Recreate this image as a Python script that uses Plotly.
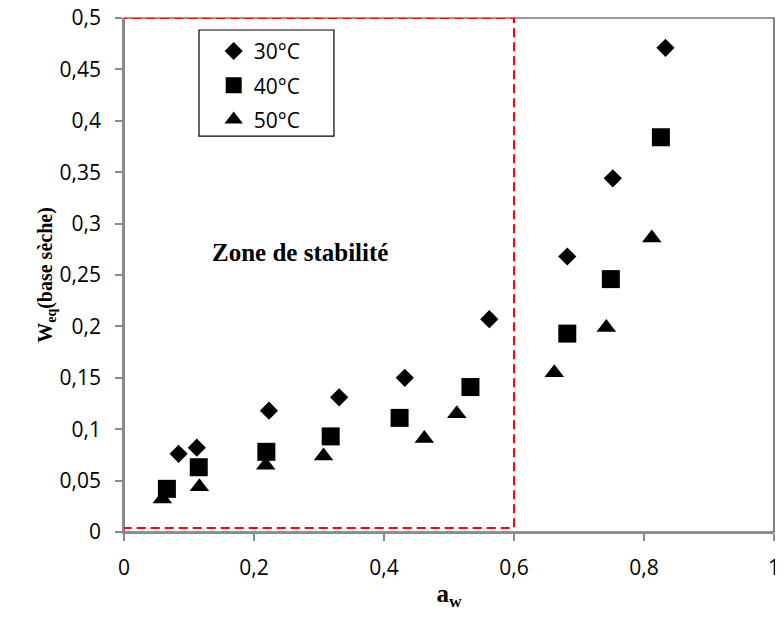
import plotly.graph_objects as go

# data
aw_30 = [0.084, 0.112, 0.223, 0.331, 0.432, 0.562, 0.682, 0.752, 0.833]
w_30 = [0.076, 0.082, 0.118, 0.131, 0.150, 0.207, 0.268, 0.344, 0.471]
aw_40 = [0.066, 0.115, 0.219, 0.318, 0.424, 0.533, 0.682, 0.749, 0.826]
w_40 = [0.042, 0.063, 0.078, 0.093, 0.111, 0.141, 0.193, 0.246, 0.384]
aw_50 = [0.059, 0.116, 0.218, 0.307, 0.462, 0.512, 0.662, 0.742, 0.812]
w_50 = [0.032, 0.044, 0.065, 0.074, 0.091, 0.115, 0.155, 0.199, 0.286]
series_names = ["30°C", "40°C", "50°C"]
x_ticks = [0, 0.2, 0.4, 0.6, 0.8, 1]
y_ticks = [0, 0.05, 0.1, 0.15, 0.2, 0.25, 0.3, 0.35, 0.4, 0.45, 0.5]

fig = go.Figure()
fig.add_trace(go.Scatter(x=aw_30, y=w_30, mode="markers", name=series_names[0],
                         legendgroup="a",
                         marker=dict(symbol="diamond", size=14, color="black"), cliponaxis=False))
fig.add_trace(go.Scatter(x=aw_40, y=w_40, mode="markers", name=series_names[1],
                         legendgroup="b",
                         marker=dict(symbol="square", size=18, color="black"), cliponaxis=False))
fig.add_trace(go.Scatter(x=aw_50, y=w_50, mode="markers", name=series_names[2],
                         legendgroup="c",
                         marker=dict(symbol="triangle-up", size=17, color="black"), cliponaxis=False))
# empty trace so the label axis is rendered
fig.add_trace(go.Scatter(x=[], y=[], yaxis="y2", showlegend=False, hoverinfo="skip"))

tickfont = dict(family="Open Sans, Lato, sans-serif", size=21, color="black")
GRAY = "#8c8c8c"
ML = 93
PW = 767 - ML - 1  # paper width in px
DOM0 = 23 / PW

fig.update_layout(
    xaxis=dict(domain=[DOM0, 1], range=[0, 1], tickvals=x_ticks, showgrid=False, zeroline=False,
               showline=True, linecolor=GRAY, linewidth=1.5, ticks="outside", ticklen=7,
               tickcolor=GRAY, tickwidth=1.5, tickfont=tickfont, automargin=False,
               ticklabeloverflow="allow", ticklabelstandoff=9,
               title=dict(text="<b>a<sub>w</sub></b>",
                          font=dict(family="Liberation Serif, Times New Roman, serif", size=25, color="black"),
                          standoff=8)),
    yaxis=dict(range=[0, 0.5], tickvals=y_ticks, showgrid=False, zeroline=False,
               showline=True, linecolor=GRAY, linewidth=1.5, ticks="outside", ticklen=7,
               tickcolor=GRAY, tickwidth=1.5, showticklabels=False, automargin=False),
    yaxis2=dict(overlaying="y", anchor="free", position=0, side="left", range=[0, 0.5],
                tickvals=y_ticks, showgrid=False, zeroline=False, showline=False, ticks="",
                tickfont=tickfont, automargin=False, ticklabeloverflow="allow",
                title=dict(text="<b>W<sub>eq</sub>(base sèche)</b>",
                           font=dict(family="Liberation Serif, Times New Roman, serif", size=20, color="black"),
                           standoff=0)),
)

# plot-area border
fig.add_shape(type="rect", xref="x domain", yref="paper", x0=0, x1=1, y0=0, y1=1,
              line=dict(color="#333333", width=1.2), layer="below")
# stability zone
fig.add_shape(type="rect", xref="x", yref="y", x0=-0.002, x1=0.6, y0=0.004, y1=0.5,
              line=dict(color="#ff0000", width=2, dash="9px,5px"), layer="above")
# legend frame
fig.add_shape(type="rect", xref="x domain", yref="paper", x0=0.1154, x1=0.323, y0=0.770, y1=0.9767,
              line=dict(color="black", width=1.2), fillcolor="white", layer="above")

fig.add_annotation(x=0.27, y=0.272, xref="x", yref="y", text="<b>Zone de stabilité</b>",
                   showarrow=False,
                   font=dict(family="Liberation Serif, Times New Roman, serif", size=25, color="black"))

fig.update_layout(
    width=767, height=603,
    margin=dict(l=ML, r=1, t=10, b=79),
    paper_bgcolor="white", plot_bgcolor="white",
    separators=", ",
    showlegend=True,
    legend=dict(x=(205.7 - ML) / PW, y=0.975, xanchor="left", yanchor="top",
                borderwidth=0, bgcolor="rgba(0,0,0,0)",
                tracegroupgap=4,
                font=dict(family="Open Sans, Lato, sans-serif", size=21, color="black")),
)

fig.write_html("out.html")
